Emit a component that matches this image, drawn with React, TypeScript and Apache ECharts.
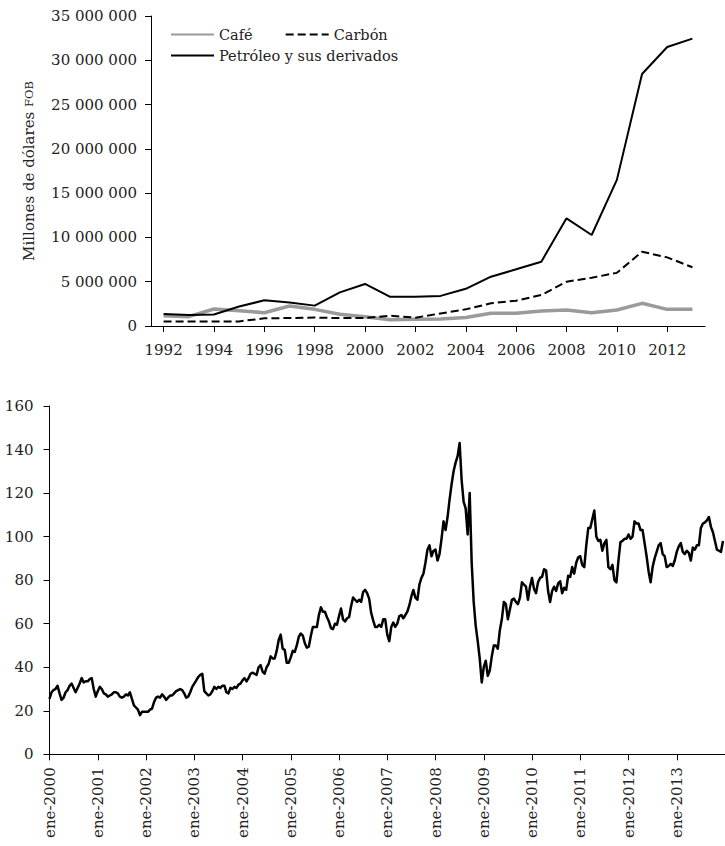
import React, { useEffect, useRef } from "react";
import * as echarts from "echarts";

// ---------- Top chart: exports (US$ FOB) ----------
const years = [
  "1992", "1993", "1994", "1995", "1996", "1997", "1998", "1999", "2000", "2001", "2002",
  "2003", "2004", "2005", "2006", "2007", "2008", "2009", "2010", "2011", "2012", "2013",
];
const cafe = [
  1160000, 1050000, 1920000, 1730000, 1500000, 2260000, 1880000, 1320000, 1050000, 700000, 760000,
  800000, 950000, 1430000, 1450000, 1690000, 1810000, 1500000, 1800000, 2560000, 1880000, 1880000,
];
const carbon = [
  500000, 500000, 500000, 520000, 870000, 900000, 950000, 900000, 900000, 1160000, 940000,
  1420000, 1880000, 2560000, 2860000, 3500000, 5000000, 5450000, 6000000, 8390000, 7750000, 6630000,
];
const petroleo = [
  1350000, 1250000, 1300000, 2200000, 2900000, 2650000, 2300000, 3800000, 4750000, 3300000, 3300000,
  3400000, 4200000, 5570000, 6400000, 7260000, 12160000, 10270000, 16500000, 28450000, 31500000, 32450000,
];
const topYTicks = { min: 0, max: 35000000, interval: 5000000 };

// ---------- Bottom chart: oil price, two readings per month (first / second half) ----------
const oil2000 = [25.5, 28.5, 29.5, 30.0, 31.5, 28.0, 25.0, 26.0, 28.5, 29.5, 31.5, 32.5, 30.5, 28.5, 30.5, 32.5, 35.0, 33.0, 33.5, 33.5, 34.5, 35.0, 30.0, 26.5];
const oil2001 = [29.0, 31.0, 30.0, 28.0, 27.5, 26.5, 27.0, 27.5, 28.5, 28.5, 28.0, 26.5, 26.0, 26.5, 27.5, 27.0, 28.5, 25.5, 22.5, 21.5, 20.5, 18.0, 19.5, 19.5];
const oil2002 = [19.5, 19.5, 20.5, 21.0, 24.0, 26.0, 26.5, 26.0, 27.5, 26.5, 25.0, 26.0, 27.0, 27.0, 28.0, 29.0, 29.5, 30.0, 29.5, 28.0, 26.0, 26.5, 28.5, 31.0];
const oil2003 = [32.5, 34.0, 35.5, 36.5, 37.0, 29.0, 28.0, 27.0, 27.5, 29.0, 31.0, 30.0, 31.0, 30.5, 31.5, 31.5, 28.5, 28.0, 30.5, 30.0, 31.0, 30.5, 32.0, 32.5];
const oil2004 = [34.0, 35.0, 33.5, 35.0, 37.0, 37.5, 37.0, 36.5, 40.0, 41.0, 38.0, 37.0, 40.0, 41.5, 45.0, 44.0, 44.0, 47.5, 52.5, 55.0, 48.5, 48.0, 42.0, 42.0];
const oil2005 = [44.5, 47.5, 47.0, 50.0, 54.0, 55.5, 54.5, 51.0, 49.0, 49.5, 54.5, 58.5, 58.5, 58.5, 64.0, 67.5, 65.5, 65.5, 63.0, 61.0, 58.0, 57.5, 60.0, 59.5];
const oil2006 = [63.5, 67.0, 62.0, 61.0, 62.5, 63.0, 68.0, 72.0, 71.0, 70.0, 71.0, 70.0, 74.5, 75.5, 74.0, 71.5, 65.0, 61.5, 58.5, 58.5, 59.5, 58.5, 62.0, 62.0];
const oil2007 = [55.0, 52.0, 58.5, 60.5, 58.5, 60.0, 63.5, 64.0, 62.5, 64.0, 65.5, 68.5, 72.5, 75.5, 72.0, 71.0, 78.0, 81.0, 83.0, 88.0, 94.0, 96.0, 91.0, 93.5];
const oil2008 = [94.0, 89.0, 92.0, 99.0, 107.0, 103.0, 109.0, 117.0, 124.0, 130.0, 134.0, 137.0, 143.0, 126.0, 116.0, 113.0, 101.0, 120.0, 88.0, 70.0, 59.0, 52.0, 44.0, 33.0];
const oil2009 = [40.0, 43.0, 36.0, 38.5, 45.0, 50.0, 50.0, 48.5, 57.0, 62.0, 70.0, 69.0, 62.0, 66.5, 71.0, 71.5, 70.0, 69.0, 72.0, 79.0, 78.0, 77.0, 71.0, 77.0];
const oil2010 = [81.0, 76.0, 74.0, 79.0, 81.0, 81.5, 85.0, 84.5, 75.0, 70.0, 75.0, 77.0, 75.0, 78.5, 79.5, 74.0, 76.5, 75.5, 82.0, 81.5, 86.0, 83.0, 88.0, 90.5];
const oil2011 = [91.0, 87.0, 86.0, 96.0, 104.0, 104.0, 108.0, 112.0, 100.0, 98.0, 98.5, 93.5, 97.0, 98.5, 86.0, 85.0, 87.0, 80.0, 79.0, 89.0, 97.5, 98.0, 99.0, 99.0];
const oil2012 = [101.0, 99.0, 100.0, 107.0, 106.0, 106.0, 103.0, 103.0, 97.0, 91.0, 84.0, 79.0, 86.0, 90.0, 93.0, 96.0, 97.0, 92.0, 91.0, 86.0, 86.5, 87.5, 86.5, 89.0];
const oil2013 = [93.0, 95.5, 97.0, 93.0, 92.0, 93.5, 92.5, 89.0, 95.0, 94.0, 96.0, 96.0, 104.0, 106.0, 106.5, 107.5, 109.0, 104.5, 102.0, 98.0, 94.0, 93.5, 93.0, 98.0];
const oilByYear = [oil2000, oil2001, oil2002, oil2003, oil2004, oil2005, oil2006, oil2007, oil2008, oil2009, oil2010, oil2011, oil2012, oil2013];
const oilFirstYear = 2000;
const bottomYTicks = { min: 0, max: 160, interval: 20 };

const FONT = "DejaVu Serif";
const TEXT = "#222";

function spaced(v: number): string {
  return String(v).replace(/\B(?=(\d{3})+(?!\d))/g, " ");
}

export default function App() {
  const ref = useRef<HTMLDivElement>(null);

  useEffect(() => {
    if (!ref.current) return;
    const chart = echarts.init(ref.current, null, { renderer: "svg" });

    const oilData = oilByYear.flatMap((arr, yi) =>
      arr.map((v, k) => [oilFirstYear + yi + k / arr.length, v])
    );

    const axisLine = { show: true, lineStyle: { color: "#000", width: 1 } };
    const tick = { show: true, length: 6, lineStyle: { color: "#000", width: 1 } };
    const legendText = { fontFamily: FONT, fontSize: 14.5, color: TEXT };

    chart.setOption({
      animation: false,
      backgroundColor: "#fff",
      textStyle: { fontFamily: FONT, color: TEXT },
      grid: [
        { left: 151, top: 16, width: 554, height: 310 },
        { left: 49.5, top: 406, width: 679.6, height: 348.3 },
      ],
      legend: [
        {
          data: ["Café", "Carbón"],
          left: 165,
          top: 22,
          orient: "horizontal",
          itemWidth: 43,
          itemHeight: 14,
          itemGap: 32,
          itemStyle: { opacity: 0, borderWidth: 0 },
          textStyle: legendText,
        },
        {
          data: ["Petróleo y sus derivados"],
          left: 165,
          top: 43,
          itemWidth: 43,
          itemHeight: 14,
          itemStyle: { opacity: 0, borderWidth: 0 },
          textStyle: legendText,
        },
      ],
      xAxis: [
        {
          gridIndex: 0,
          type: "category",
          data: years,
          boundaryGap: true,
          axisLine,
          axisTick: { ...tick, alignWithLabel: true, interval: 1 },
          axisLabel: { interval: 1, margin: 16, fontSize: 15, fontFamily: FONT, color: TEXT },
          splitLine: { show: false },
        },
        {
          gridIndex: 1,
          type: "value",
          min: oilFirstYear,
          max: oilFirstYear + oilByYear.length,
          interval: 1,
          axisLine,
          axisTick: tick,
          axisLabel: {
            rotate: 90,
            margin: 13,
            fontSize: 15,
            fontFamily: FONT,
            color: TEXT,
            showMaxLabel: false,
            formatter: (v: number) => (v >= oilFirstYear + oilByYear.length ? "" : "ene-" + v),
          },
          splitLine: { show: false },
        },
      ],
      yAxis: [
        {
          gridIndex: 0,
          type: "value",
          ...topYTicks,
          axisLine,
          axisTick: tick,
          axisLabel: { margin: 14, fontSize: 15, fontFamily: FONT, color: TEXT, formatter: spaced },
          splitLine: { show: false },
          name: "Millones de dólares {s|FOB}",
          nameLocation: "middle",
          nameRotate: 90,
          nameGap: 115,
          nameTextStyle: {
            fontFamily: FONT,
            fontSize: 15,
            color: TEXT,
            rich: { s: { fontFamily: FONT, fontSize: 11.5, color: TEXT } },
          },
        },
        {
          gridIndex: 1,
          type: "value",
          ...bottomYTicks,
          axisLine,
          axisTick: tick,
          axisLabel: { margin: 16, fontSize: 15, fontFamily: FONT, color: TEXT },
          splitLine: { show: false },
        },
      ],
      series: [
        {
          name: "Café",
          type: "line",
          xAxisIndex: 0,
          yAxisIndex: 0,
          data: cafe,
          symbol: "none",
          lineStyle: { color: "#9a9a9a", width: 3.5 },
          itemStyle: { color: "#9a9a9a" },
          z: 2,
        },
        {
          name: "Carbón",
          type: "line",
          xAxisIndex: 0,
          yAxisIndex: 0,
          data: carbon,
          symbol: "none",
          lineStyle: { color: "#000", width: 2, type: [8, 4] },
          itemStyle: { color: "#000" },
          z: 3,
        },
        {
          name: "Petróleo y sus derivados",
          type: "line",
          xAxisIndex: 0,
          yAxisIndex: 0,
          data: petroleo,
          symbol: "none",
          lineStyle: { color: "#000", width: 2 },
          itemStyle: { color: "#000" },
          z: 4,
        },
        {
          name: "Precio del petróleo",
          type: "line",
          xAxisIndex: 1,
          yAxisIndex: 1,
          data: oilData,
          symbol: "none",
          lineStyle: { color: "#000", width: 2.5, join: "round" },
          itemStyle: { color: "#000" },
        },
      ],
    });

    return () => chart.dispose();
  }, []);

  return (
    <div
      ref={ref}
      style={{ position: "absolute", left: 0, top: 0, width: 725, height: 846, background: "#fff" }}
    />
  );
}
